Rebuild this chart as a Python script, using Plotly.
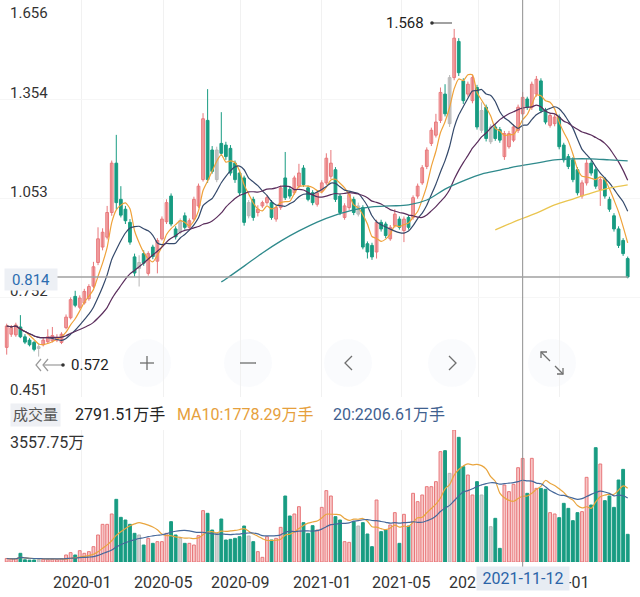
import pandas as pd
import plotly.graph_objects as go

W, H = 640, 597
FONT = "Roboto, Noto Sans CJK SC, sans-serif"

# 周K线，日期为每周周一
WEEK0 = "2019-09-09"

OPEN = [
    0.600, 0.640, 0.638, 0.662, 0.632, 0.622, 0.615, 0.597, 0.608, 0.617,
    0.620, 0.622, 0.615, 0.660, 0.690, 0.755, 0.722, 0.735, 0.748, 0.786,
    0.858, 0.905, 0.935, 1.010, 1.160, 1.050, 1.020, 0.980, 0.875, 0.840,
    0.885, 0.825, 0.905, 0.862, 0.930, 0.982, 1.060, 0.960, 0.950, 1.000,
    0.965, 0.990, 1.030, 1.110, 1.290, 1.200, 1.110, 1.220, 1.215, 1.205,
    1.160, 1.130, 1.115, 1.000, 1.050, 1.010, 1.030, 1.040, 1.040, 0.990,
    1.025, 1.115, 1.080, 1.070, 1.090, 1.145, 1.085, 1.070, 1.035, 1.075,
    1.100, 1.120, 1.140, 1.060, 0.995, 1.025, 1.050, 1.030, 1.025, 0.915,
    0.910, 0.890, 0.980, 0.975, 0.930, 0.970, 0.990, 0.955, 0.995, 0.995,
    1.060, 1.100, 1.150, 1.220, 1.245, 1.290, 1.370, 1.280, 1.420, 1.530,
    1.410, 1.370, 1.350, 1.390, 1.260, 1.330, 1.225, 1.270, 1.262, 1.180,
    1.210, 1.230, 1.260, 1.310, 1.355, 1.330, 1.370, 1.410, 1.320, 1.275,
    1.280, 1.300, 1.215, 1.180, 1.170, 1.140, 1.060, 1.100, 1.160, 1.140,
    1.080, 1.110, 1.050, 1.000, 0.960, 0.925, 0.870,
]
CLOSE = [
    0.665, 0.660, 0.668, 0.632, 0.616, 0.608, 0.594, 0.602, 0.622, 0.632,
    0.636, 0.630, 0.640, 0.692, 0.745, 0.728, 0.750, 0.770, 0.785, 0.845,
    0.930, 0.950, 1.010, 1.160, 1.040, 1.002, 0.985, 0.920, 0.826, 0.858,
    0.856, 0.885, 0.876, 0.925, 0.990, 1.040, 0.975, 0.936, 0.985, 0.965,
    0.985, 1.050, 1.090, 1.295, 1.110, 1.135, 1.200, 1.190, 1.180, 1.130,
    1.110, 1.070, 0.980, 1.040, 0.995, 1.020, 1.040, 1.055, 0.995, 1.025,
    1.085, 1.055, 1.060, 1.115, 1.130, 1.095, 1.050, 1.040, 1.070, 1.100,
    1.175, 1.160, 1.050, 1.010, 1.030, 1.065, 1.010, 1.005, 0.905, 0.890,
    0.875, 0.980, 0.960, 0.940, 0.965, 1.005, 0.965, 0.990, 0.965, 1.055,
    1.090, 1.146, 1.200, 1.260, 1.285, 1.375, 1.310, 1.420, 1.540, 1.435,
    1.350, 1.400, 1.420, 1.270, 1.320, 1.235, 1.270, 1.235, 1.230, 1.250,
    1.250, 1.270, 1.330, 1.360, 1.330, 1.400, 1.415, 1.320, 1.285, 1.305,
    1.300, 1.210, 1.170, 1.150, 1.110, 1.070, 1.100, 1.160, 1.130, 1.090,
    1.110, 1.060, 1.020, 0.960, 0.910, 0.885, 0.814,
]
HIGH = [
    0.672, 0.668, 0.675, 0.698, 0.640, 0.628, 0.620, 0.612, 0.630, 0.655,
    0.662, 0.640, 0.646, 0.700, 0.752, 0.772, 0.758, 0.778, 0.792, 0.860,
    0.965, 0.962, 1.030, 1.168, 1.246, 1.090, 1.030, 0.990, 0.885, 0.880,
    0.895, 0.892, 0.912, 0.932, 0.998, 1.050, 1.068, 0.968, 0.992, 1.010,
    0.992, 1.058, 1.098, 1.312, 1.385, 1.212, 1.210, 1.315, 1.225, 1.215,
    1.168, 1.140, 1.122, 1.048, 1.058, 1.032, 1.046, 1.062, 1.048, 1.032,
    1.092, 1.194, 1.088, 1.122, 1.158, 1.154, 1.092, 1.078, 1.078, 1.108,
    1.190, 1.200, 1.148, 1.068, 1.038, 1.072, 1.058, 1.040, 1.032, 0.922,
    0.918, 0.988, 0.988, 0.982, 0.972, 1.020, 0.998, 0.998, 1.002, 1.062,
    1.098, 1.154, 1.208, 1.268, 1.310, 1.390, 1.400, 1.428, 1.568, 1.540,
    1.418, 1.408, 1.428, 1.398, 1.345, 1.338, 1.278, 1.278, 1.270, 1.258,
    1.258, 1.278, 1.338, 1.376, 1.362, 1.408, 1.425, 1.418, 1.328, 1.312,
    1.308, 1.308, 1.222, 1.188, 1.178, 1.148, 1.108, 1.172, 1.168, 1.148,
    1.118, 1.118, 1.058, 1.008, 0.968, 0.932, 0.876,
]
LOW = [
    0.578, 0.632, 0.632, 0.628, 0.610, 0.603, 0.588, 0.572, 0.603, 0.612,
    0.615, 0.616, 0.610, 0.655, 0.685, 0.722, 0.716, 0.730, 0.742, 0.780,
    0.850, 0.895, 0.928, 1.000, 1.020, 0.995, 0.975, 0.912, 0.815, 0.785,
    0.848, 0.818, 0.868, 0.825, 0.925, 0.975, 0.968, 0.928, 0.944, 0.958,
    0.958, 0.985, 1.024, 1.104, 1.100, 1.128, 1.102, 1.182, 1.170, 1.122,
    1.100, 1.062, 0.970, 0.992, 0.985, 0.998, 1.024, 1.034, 0.988, 0.982,
    1.018, 1.048, 1.052, 1.064, 1.084, 1.088, 1.044, 1.032, 1.028, 1.068,
    1.094, 1.112, 1.042, 1.002, 0.988, 1.018, 1.002, 0.998, 0.898, 0.870,
    0.866, 0.870, 0.952, 0.932, 0.924, 0.964, 0.958, 0.920, 0.958, 0.988,
    1.052, 1.094, 1.142, 1.212, 1.238, 1.282, 1.302, 1.270, 1.412, 1.425,
    1.340, 1.362, 1.342, 1.262, 1.252, 1.226, 1.218, 1.228, 1.222, 1.170,
    1.204, 1.224, 1.252, 1.302, 1.322, 1.322, 1.362, 1.312, 1.278, 1.268,
    1.272, 1.202, 1.162, 1.142, 1.102, 1.062, 1.052, 1.092, 1.122, 1.082,
    1.030, 1.052, 1.012, 0.952, 0.902, 0.878, 0.810,
]
# 灰色K线（平盘类）所在周序号
GRAY_WEEKS = [7, 29, 38, 46, 53, 77, 97, 104, 106]

# 成交量（万手）
VOLUME = [
    95, 80, 85, 234, 60, 50, 55, 60, 70, 60,
    75, 65, 90, 189, 252, 189, 305, 234, 279, 413,
    728, 1015, 1015, 1294, 1689, 1204, 1132, 1015, 773, 728,
    458, 638, 503, 548, 548, 773, 1087, 728, 638, 503,
    503, 458, 710, 1384, 1312, 862, 773, 1159, 593, 611,
    638, 683, 970, 701, 548, 279, 126, 683, 593, 638,
    934, 1779, 1240, 1294, 1491, 1060, 773, 979, 862, 1473,
    1923, 1779, 1222, 1132, 548, 530, 1087, 970, 1060, 755,
    413, 1671, 818, 862, 997, 1330, 503, 1285, 970, 1851,
    1626, 1806, 2030, 2030, 2165, 2974, 3001, 2390, 3557.75, 3360,
    2569, 2345, 1806, 2165, 1806, 2030, 952, 1177, 368, 2075,
    1896, 2093, 2542, 2791.51, 1851, 2794, 1985, 1985, 1959, 1330,
    1294, 1195, 1581, 1446, 1114, 1330, 1357, 2282, 1536, 3081,
    2641, 1653, 1779, 1473, 2210, 2497, 746,
]

# 长周期均线
MA60_WEEKS = [47, 48, 52, 56, 60, 64, 68, 72, 76, 80, 84, 88, 92, 96, 100,
              104, 108, 112, 116, 120, 124, 128, 132, 136]
MA60_VAL = [0.799, 0.808, 0.847, 0.887, 0.923, 0.954, 0.981, 1.002, 1.018,
            1.027, 1.030, 1.033, 1.048, 1.081, 1.106, 1.127, 1.139, 1.151,
            1.160, 1.170, 1.173, 1.173, 1.170, 1.167]
MA120_WEEKS = [107, 108, 112, 116, 120, 124, 128, 132, 136]
MA120_VAL = [0.957, 0.963, 0.987, 1.008, 1.033, 1.051, 1.069, 1.084, 1.094]

Y_TICKS = [1.656, 1.354, 1.053, 0.752, 0.451]
X_TICK_DATES = ["2020-01-02", "2020-05-06", "2020-09-01", "2021-01-04",
                "2021-05-06", "2021-09-01", "2022-01-04"]
X_TICK_TEXT = ["2020-01", "2020-05", "2020-09", "2021-01", "2021-05",
               "2021-09", "2022-01"]

CROSS_WEEK = 113
CROSS_LABEL = "2021-11-12"

UP_LINE, UP_FILL = "#e8777a", "#f7c6c6"
DOWN_C = "#189c82"
GRAY_LINE, GRAY_FILL = "#b8b8b8", "#d2d2d2"
TEXT_C = "#333333"


def px(x):
    return x / W


def py(y):
    return 1 - y / H


N = len(CLOSE)
weeks = pd.date_range(WEEK0, periods=N, freq="7D")
DAY_PX = 0.6523
X0_PX = 6.7
x_left = weeks[0] - pd.Timedelta(days=X0_PX / DAY_PX)
x_right = weeks[0] + pd.Timedelta(days=(W - X0_PX) / DAY_PX)
WEEK_MS = 7 * 24 * 3600 * 1000

gray = set(GRAY_WEEKS)
up_idx = [i for i in range(N) if i not in gray and CLOSE[i] >= OPEN[i]]
down_idx = [i for i in range(N) if i not in gray and CLOSE[i] < OPEN[i]]
gray_idx = [i for i in range(N) if i in gray]

close_s = pd.Series(CLOSE)
vol_s = pd.Series(VOLUME)

fig = go.Figure()

groups = [
    (up_idx, UP_LINE, UP_FILL),
    (down_idx, DOWN_C, DOWN_C),
    (gray_idx, GRAY_LINE, GRAY_FILL),
]
for idx, line_c, fill_c in groups:
    xs, ys = [], []
    for i in idx:
        xs += [weeks[i], weeks[i], None]
        ys += [LOW[i], HIGH[i], None]
    fig.add_trace(go.Scatter(x=xs, y=ys, mode="lines",
                             line=dict(color=line_c, width=1), hoverinfo="skip"))
    fig.add_trace(go.Bar(
        x=[weeks[i] for i in idx],
        y=[max(abs(CLOSE[i] - OPEN[i]), 0.003) for i in idx],
        base=[min(CLOSE[i], OPEN[i]) for i in idx],
        width=WEEK_MS * 0.6,
        marker=dict(color=fill_c, line=dict(color=line_c, width=1)),
    ))

ma_lines = [
    (close_s.rolling(5, min_periods=1).mean(), "#efa23a"),
    (close_s.rolling(10, min_periods=1).mean(), "#34496b"),
    (close_s.rolling(20, min_periods=1).mean(), "#5a2d5c"),
]
for ser, color in ma_lines:
    fig.add_trace(go.Scatter(x=weeks, y=ser, mode="lines",
                             line=dict(color=color, width=1.2, shape="spline", smoothing=0.6)))
fig.add_trace(go.Scatter(x=[weeks[i] for i in MA60_WEEKS], y=MA60_VAL, mode="lines",
                         line=dict(color="#2f8a8c", width=1.3, shape="spline")))
fig.add_trace(go.Scatter(x=[weeks[i] for i in MA120_WEEKS], y=MA120_VAL, mode="lines",
                         line=dict(color="#eac54f", width=1.3, shape="spline")))

# 成交量
for idx, line_c, fill_c in groups:
    fig.add_trace(go.Bar(
        x=[weeks[i] for i in idx],
        y=[VOLUME[i] for i in idx],
        width=WEEK_MS * 0.62,
        marker=dict(color=fill_c, line=dict(color=line_c, width=1)),
        xaxis="x2", yaxis="y2",
    ))
fig.add_trace(go.Scatter(x=weeks, y=vol_s.rolling(10, min_periods=1).mean(), mode="lines",
                         line=dict(color="#e9a53e", width=1.2, shape="spline"),
                         xaxis="x2", yaxis="y2"))
fig.add_trace(go.Scatter(x=weeks, y=vol_s.rolling(20, min_periods=1).mean(), mode="lines",
                         line=dict(color="#46689a", width=1.2, shape="spline"),
                         xaxis="x2", yaxis="y2"))

price_top = 1.656
price_bottom = price_top - 397 * 0.00304
vol_max = max(VOLUME)

shapes = []
# 十字光标
shapes.append(dict(type="line", xref="x", yref="paper", x0=weeks[CROSS_WEEK], x1=weeks[CROSS_WEEK],
                   y0=py(572), y1=1, line=dict(color="#8f8f8f", width=1)))
shapes.append(dict(type="line", xref="paper", yref="y", x0=px(57), x1=px(628),
                   y0=CLOSE[-1], y1=CLOSE[-1], line=dict(color="#a0a0a0", width=1.5)))

# 底部按钮
for cx in [147, 248, 348, 452, 552]:
    shapes.append(dict(type="circle", xref="paper", yref="paper",
                       x0=px(cx - 24), x1=px(cx + 24), y0=py(363 + 24), y1=py(363 - 24),
                       fillcolor="rgba(228,234,244,0.18)", line=dict(width=0), layer="below"))


def path(points):
    return "M " + " L ".join(f"{px(a):.5f},{py(b):.5f}" for a, b in points)


btn_line = dict(color="#6f6f6f", width=1.3)
for pts in [
    [(140, 363), (154, 363)], [(147, 356), (147, 370)],
    [(240, 363), (256, 363)],
    [(352, 356), (345, 363), (352, 370)],
    [(449, 356), (456, 363), (449, 370)],
    [(550, 361), (541, 352)], [(541, 358), (541, 352), (547, 352)],
    [(555, 366), (563, 374)], [(563, 368), (563, 374), (557, 374)],
    # 最低价旁的箭头
    [(41, 359), (36, 365), (41, 371)], [(48, 359), (43, 365), (48, 371)],
    [(44, 365), (62, 365)],
    # 最高价引线
    [(432, 23), (452, 23)],
]:
    color = "#9a9a9a" if pts[0][0] < 70 else btn_line["color"]
    shapes.append(dict(type="path", xref="paper", yref="paper", path=path(pts),
                       line=dict(color=color, width=1.2 if pts[0][0] < 70 else btn_line["width"])))
for dx, dy in [(432, 23), (63, 365)]:
    shapes.append(dict(type="circle", xref="paper", yref="paper",
                       x0=px(dx - 1.8), x1=px(dx + 1.8), y0=py(dy + 1.8), y1=py(dy - 1.8),
                       fillcolor="#333", line=dict(width=0)))

ann = []
label_y = [13, 93, 192, 291, 390]
for v, yy in zip(Y_TICKS, label_y):
    ann.append(dict(text=f"{v:.3f}", x=px(8), y=py(yy), xref="paper", yref="paper",
                    xanchor="left", yanchor="middle", showarrow=False,
                    font=dict(size=15, color=TEXT_C)))
ann.append(dict(text=f"{CLOSE[-1]:.3f}", x=px(31), y=py(279), xref="paper", yref="paper",
                xanchor="center", yanchor="middle", showarrow=False, bgcolor="#edf0f5",
                width=48, height=17, borderpad=2, font=dict(size=15, color="#2b6cb0")))
ann.append(dict(text=f"{max(HIGH):.3f}", x=px(426), y=py(23), xref="paper", yref="paper",
                xanchor="right", yanchor="middle", showarrow=False,
                font=dict(size=15, color="#222")))
ann.append(dict(text=f"{min(LOW):.3f}", x=px(69), y=py(365), xref="paper", yref="paper",
                xanchor="left", yanchor="middle", showarrow=False,
                font=dict(size=15, color="#222")))

# 成交量图例
ann.append(dict(text="成交量", x=px(35), y=py(415), xref="paper", yref="paper",
                xanchor="center", yanchor="middle", showarrow=False, bgcolor="#eef0f4",
                borderpad=2, font=dict(size=15, color="#555")))
for text, x0, color in [
    ("2791.51万手", 73, "#222222"),
    ("MA10:1778.29万手", 175, "#e6a03c"),
    ("20:2206.61万手", 331, "#3f618f"),
]:
    ann.append(dict(text=text, x=px(x0), y=py(414), xref="paper", yref="paper",
                    xanchor="left", yanchor="middle", showarrow=False,
                    font=dict(size=16, color=color)))
ann.append(dict(text=f"{vol_max:.2f}万", x=px(8), y=py(442), xref="paper", yref="paper",
                xanchor="left", yanchor="middle", showarrow=False,
                font=dict(size=16, color=TEXT_C)))

for d, t in zip(X_TICK_DATES, X_TICK_TEXT):
    ann.append(dict(text=t, x=d, y=py(582), xref="x", yref="paper",
                    xanchor="center", yanchor="middle", showarrow=False,
                    font=dict(size=16, color=TEXT_C)))
ann.append(dict(text=CROSS_LABEL, x=weeks[CROSS_WEEK], y=py(578.5), xref="x", yref="paper",
                xanchor="center", yanchor="middle", showarrow=False, bgcolor="#e7ecf3",
                width=88, height=19, borderpad=2, font=dict(size=16, color="#2a64a8")))

fig.update_layout(
    width=W,
    height=H,
    margin=dict(l=0, r=0, t=0, b=0),
    paper_bgcolor="white",
    plot_bgcolor="white",
    barmode="overlay",
    showlegend=False,
    font=dict(family=FONT, color=TEXT_C),
    shapes=shapes,
    annotations=ann,
    xaxis=dict(type="date", range=[x_left, x_right], domain=[0, 1], anchor="y",
               tickvals=X_TICK_DATES, showticklabels=False, ticks="",
               showgrid=True, gridcolor="#f1f1f1", zeroline=False, showline=False),
    xaxis2=dict(type="date", matches="x", anchor="y2", domain=[0, 1],
                tickvals=X_TICK_DATES, showticklabels=False, ticks="",
                showgrid=True, gridcolor="#f1f1f1", zeroline=False, showline=False),
    yaxis=dict(domain=[py(397), 1], range=[price_bottom, price_top], tickvals=Y_TICKS,
               showticklabels=False, showgrid=True, gridcolor="#f6f6f6", zeroline=False),
    yaxis2=dict(domain=[py(562), py(430)], range=[0, vol_max], showgrid=False,
                showticklabels=False, zeroline=False),
)

# 去掉页面默认边距，让图正好铺满窗口
fig.write_html("out.html", config={"displayModeBar": False},
               post_script="document.body.style.margin = '0';")
